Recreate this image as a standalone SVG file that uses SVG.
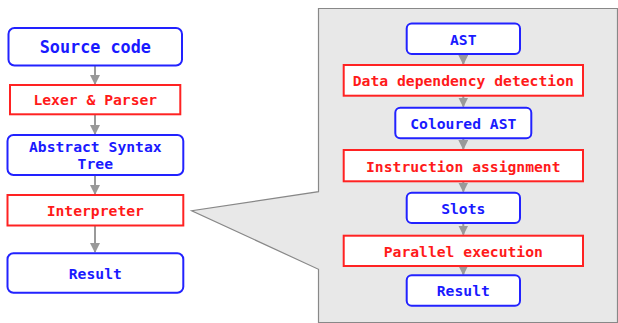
<svg xmlns="http://www.w3.org/2000/svg" width="618" height="323" viewBox="0 0 618 323">
  <style>
    .blue rect { fill: #ffffff; stroke: #2222ff; stroke-width: 2; }
    .red rect { fill: #ffffff; stroke: #ff2222; stroke-width: 2; }
    text { font-family: "DejaVu Sans Mono", "Liberation Mono", monospace; font-weight: bold; font-size: 14.7px; text-anchor: middle; }
    .blue text { fill: #1a1aff; }
    .red text { fill: #ff1a1a; }
    .edge { stroke: #999999; stroke-width: 2; fill: none; marker-end: url(#arrow); }
  </style>
  <defs>
    <marker id="arrow" viewBox="0 0 10 10" refX="9" refY="5" markerWidth="5" markerHeight="5" orient="auto" markerUnits="strokeWidth">
      <path d="M0,0 L10,5 L0,10 z" fill="#999999"/>
    </marker>
  </defs>

  <!-- zoom-in panel with callout pointing at the interpreter -->
  <g id="panel">
    <path d="M318.5,8.5 H617.5 V322.5 H318.5 V269.3 L191.7,210.7 L318.5,191.7 Z" fill="#e8e8e8" stroke="#888888" stroke-width="1.2"/>
  </g>

  <!-- connectors -->
  <g id="connectors">
    <line class="edge" x1="95" y1="66" x2="95" y2="84"/>
    <line class="edge" x1="95" y1="114.5" x2="95" y2="134"/>
    <line class="edge" x1="95" y1="175" x2="95" y2="194"/>
    <line class="edge" x1="95" y1="225.5" x2="95" y2="252"/>
    <line class="edge" x1="463.3" y1="54" x2="463.3" y2="64"/>
    <line class="edge" x1="463.3" y1="95.7" x2="463.3" y2="106.5"/>
    <line class="edge" x1="463.3" y1="138.3" x2="463.3" y2="149"/>
    <line class="edge" x1="463.3" y1="181.3" x2="463.3" y2="191.5"/>
    <line class="edge" x1="463.3" y1="223" x2="463.3" y2="234.5"/>
    <line class="edge" x1="463.3" y1="266" x2="463.3" y2="274.5"/>
  </g>

  <!-- main pipeline -->
  <g id="source-code" class="blue">
    <rect x="8.5" y="28" width="173.5" height="37.5" rx="6"/>
    <text x="95.3" y="53.3" style="font-size:16.8px">Source code</text>
  </g>
  <g id="lexer-parser" class="red">
    <rect x="10" y="85" width="170.3" height="29.3"/>
    <text x="95.3" y="105.2">Lexer &amp; Parser</text>
  </g>
  <g id="abstract-syntax-tree" class="blue">
    <rect x="7.5" y="135" width="175.8" height="40" rx="6"/>
    <text x="95.3" y="152.2">Abstract Syntax</text>
    <text x="95.3" y="169.2">Tree</text>
  </g>
  <g id="interpreter" class="red">
    <rect x="7.5" y="195" width="175.8" height="30.5"/>
    <text x="95.3" y="216.2">Interpreter</text>
  </g>
  <g id="result" class="blue">
    <rect x="7.5" y="253.3" width="175.8" height="39.4" rx="6"/>
    <text x="95.3" y="278.7">Result</text>
  </g>

  <!-- parallel interpreter stages -->
  <g id="ast" class="blue">
    <rect x="406.7" y="23.5" width="113.3" height="30.5" rx="5"/>
    <text x="463.3" y="44.8">AST</text>
  </g>
  <g id="data-dependency-detection" class="red">
    <rect x="343.7" y="65" width="239.3" height="30.7"/>
    <text x="463.3" y="86.2">Data dependency detection</text>
  </g>
  <g id="coloured-ast" class="blue">
    <rect x="395.3" y="107.7" width="136" height="30.6" rx="5"/>
    <text x="463.3" y="128.8">Coloured AST</text>
  </g>
  <g id="instruction-assignment" class="red">
    <rect x="343.7" y="150" width="239.3" height="31.3"/>
    <text x="463.3" y="171.7">Instruction assignment</text>
  </g>
  <g id="slots" class="blue">
    <rect x="406.7" y="192.7" width="113.3" height="30.3" rx="5"/>
    <text x="463.3" y="213.8">Slots</text>
  </g>
  <g id="parallel-execution" class="red">
    <rect x="343.7" y="235.7" width="239.3" height="30.3"/>
    <text x="463.3" y="256.8">Parallel execution</text>
  </g>
  <g id="result-parallel" class="blue">
    <rect x="406.7" y="275.3" width="113.3" height="30.4" rx="5"/>
    <text x="463.3" y="296.3">Result</text>
  </g>
</svg>
